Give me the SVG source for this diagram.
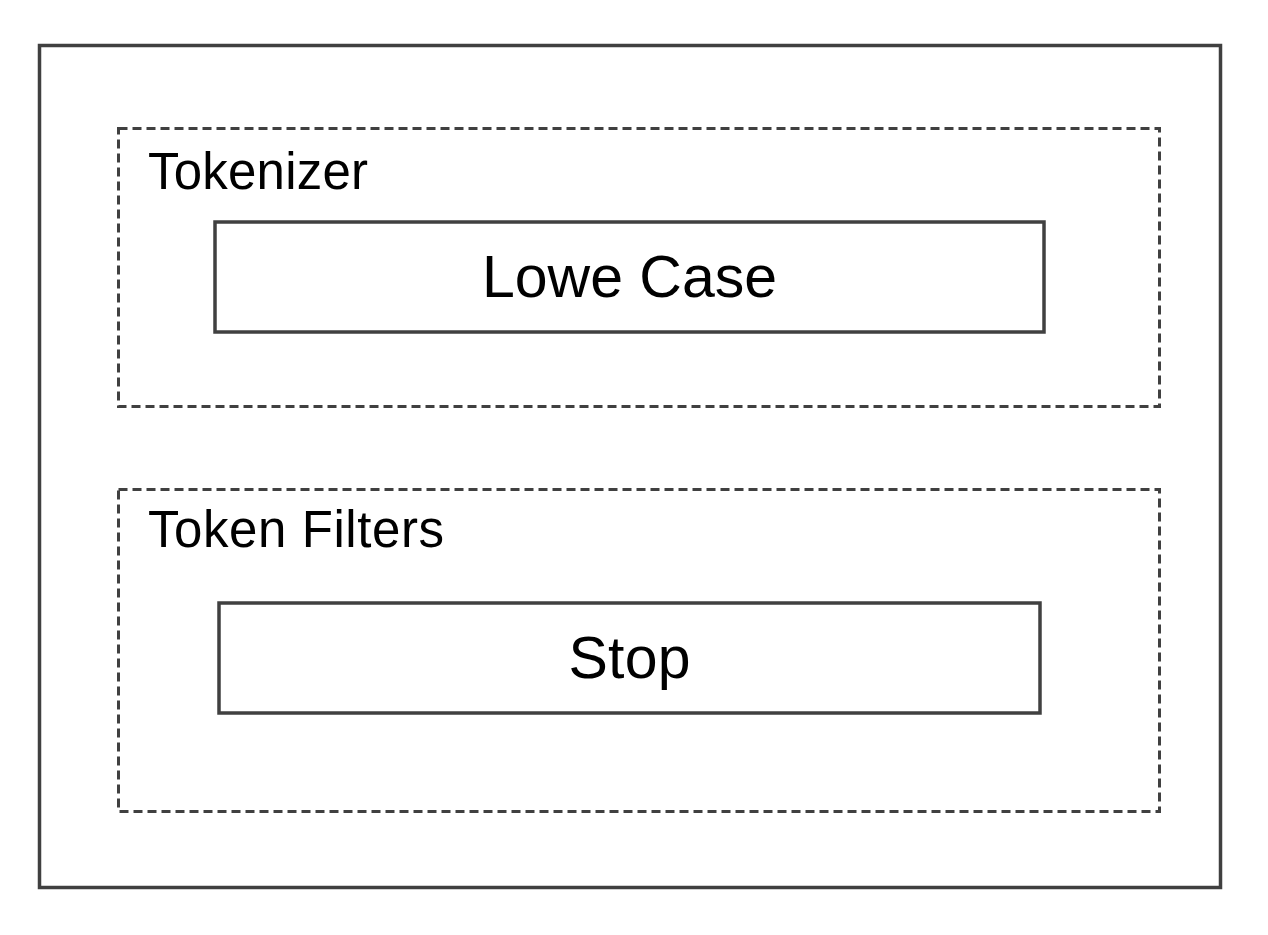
<svg xmlns="http://www.w3.org/2000/svg" width="1268" height="935" viewBox="0 0 1268 935">
<style>
.solid{fill:#fff;stroke:#404040;stroke-width:3.5}
.dash{fill:none;stroke:#404040;stroke-width:3;stroke-dasharray:9 5}
.lbl{font-family:"Liberation Sans",Arial,sans-serif;font-size:51px;fill:#000}
.big{font-family:"Liberation Sans",Arial,sans-serif;font-size:59px;fill:#000;text-anchor:middle}
</style>
<rect width="1268" height="935" fill="#fff"/>
<g id="analyzer"><rect class="solid" x="39.5" y="45.5" width="1181" height="842"/></g>
<g id="tokenizer"><rect class="dash" x="118.5" y="128.5" width="1041" height="278"/>
<text class="lbl" x="148" y="189" textLength="220" lengthAdjust="spacing">Tokenizer</text></g>
<g id="lowecase"><rect class="solid" x="215" y="222" width="829" height="110"/>
<text class="big" x="629.5" y="297" textLength="295" lengthAdjust="spacing">Lowe Case</text></g>
<g id="tokenfilters"><rect class="dash" x="118.5" y="489.5" width="1041" height="322"/>
<text class="lbl" x="148" y="547" textLength="296" lengthAdjust="spacing">Token Filters</text></g>
<g id="stop"><rect class="solid" x="219" y="603" width="821" height="110"/>
<text class="big" x="629.5" y="678" textLength="122" lengthAdjust="spacing">Stop</text></g>
<g id="connectors"></g>
</svg>
